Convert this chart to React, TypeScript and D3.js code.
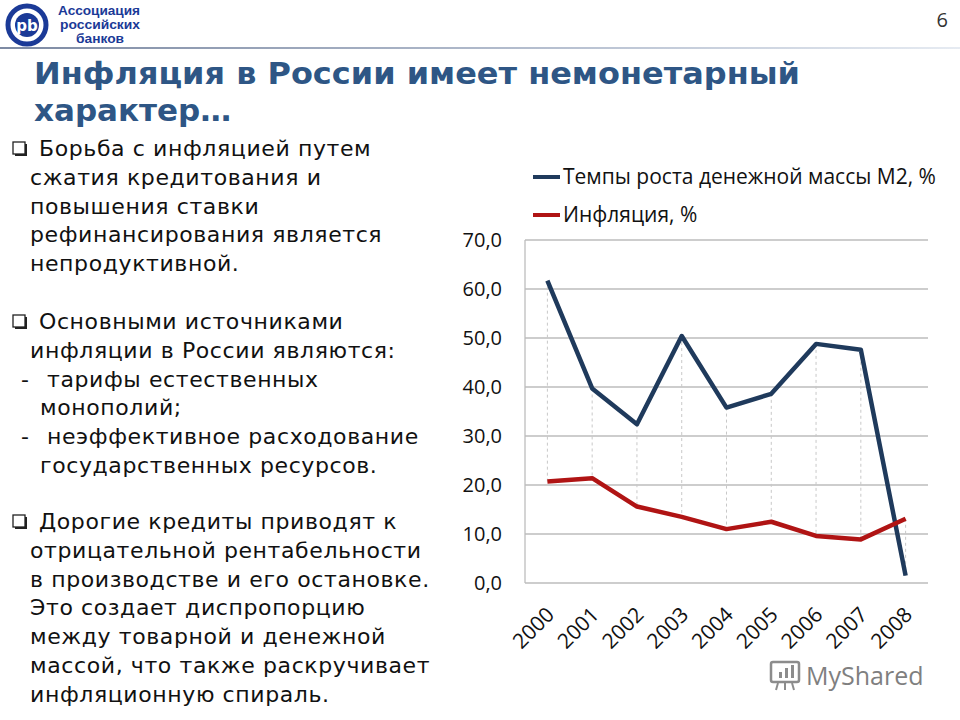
import React from 'react';
import * as d3 from 'd3';

// data
const years = ['2000', '2001', '2002', '2003', '2004', '2005', '2006', '2007', '2008'];
const m2Growth = [61.7, 39.7, 32.4, 50.4, 35.8, 38.6, 48.8, 47.6, 1.5];
const inflation = [20.7, 21.4, 15.6, 13.5, 11.0, 12.5, 9.6, 8.9, 13.1];
const yTicks = [0, 10, 20, 30, 40, 50, 60, 70];
const legendLabels = ['Темпы роста денежной массы M2, %', 'Инфляция, %'];

const bulletBlocks = [
  ['Борьба с инфляцией путем', 'сжатия кредитования и', 'повышения ставки', 'рефинансирования является', 'непродуктивной.'],
  ['Основными источниками', 'инфляции в России являются:'],
  ['Дорогие кредиты приводят к', 'отрицательной рентабельности', 'в производстве и его остановке.', 'Это создает диспропорцию', 'между товарной и денежной', 'массой, что также раскручивает', 'инфляционную спираль.'],
];
const dashItems = [
  ['тарифы естественных', 'монополий;'],
  ['неэффективное расходование', 'государственных ресурсов.'],
];

const M2_COLOR = '#1f3a5c';
const INF_COLOR = '#b01414';
const TITLE_COLOR = '#2e5685';

function Chart() {
  const left = 525, right = 928, top = 240, bottom = 583;
  const x = d3.scaleBand().domain(years).range([left, right]);
  const y = d3.scaleLinear().domain([0, 70]).range([bottom, top]);
  const cx = (d: string) => (x(d) as number) + x.bandwidth() / 2;

  const line = d3.line<number>()
    .x((d, i) => cx(years[i]))
    .y(d => y(d));

  const fmt = (v: number) => v.toFixed(1).replace('.', ',');
  const axisFont = '"Open Sans", "Noto Sans", sans-serif';

  return (
    <g fontFamily={axisFont}>
      {/* legend */}
      {legendLabels.map((lab, i) => (
        <g key={lab} transform={`translate(533,${177 + i * 38})`}>
          <line x1={0} x2={27} y1={0} y2={0} stroke={i === 0 ? M2_COLOR : INF_COLOR} strokeWidth={4} />
          <text x={30} y={7} fontSize={21} fill="#111">{lab}</text>
        </g>
      ))}
      {/* grid */}
      {yTicks.map(t => (
        <g key={t}>
          <line x1={left} x2={right} y1={y(t)} y2={y(t)} stroke="#bdbdbd" strokeWidth={1.3} />
          <text x={502} y={y(t) + 7} textAnchor="end" fontSize={20} fill="#111">{fmt(t)}</text>
        </g>
      ))}
      <line x1={left} x2={left} y1={top} y2={bottom} stroke="#bdbdbd" strokeWidth={1.3} />
      {/* high-low drop lines */}
      {years.map((yr, i) => (
        <line key={yr} x1={cx(yr)} x2={cx(yr)}
          y1={y(Math.max(m2Growth[i], inflation[i]))} y2={y(Math.min(m2Growth[i], inflation[i]))}
          stroke="#c8c8c8" strokeWidth={1} strokeDasharray="3,3" />
      ))}
      <path d={line(m2Growth) as string} fill="none" stroke={M2_COLOR} strokeWidth={4.5} strokeLinejoin="round" />
      <path d={line(inflation) as string} fill="none" stroke={INF_COLOR} strokeWidth={4.5} strokeLinejoin="round" />
      {/* x labels */}
      {years.map(yr => (
        <text key={yr} transform={`translate(${cx(yr) + 8},${bottom + 33}) rotate(-45)`}
          textAnchor="end" fontSize={21} fill="#111">{yr}</text>
      ))}
    </g>
  );
}

function BulletBox({ x, y }: { x: number; y: number }) {
  return (
    <g>
      <rect x={x + 2} y={y + 2} width={12} height={12} fill="#222" />
      <rect x={x} y={y} width={12} height={12} fill="#fff" stroke="#222" strokeWidth={1.3} />
    </g>
  );
}

function LeftText() {
  const font = '"DejaVu Sans", Verdana, sans-serif';
  const lh = 28.8;
  const rows: React.ReactNode[] = [];
  const tx = (s: string, xx: number, yy: number, k: string) => (
    <text key={k} x={xx} y={yy} fontSize={22} letterSpacing={0.6} fill="#111">{s}</text>
  );
  // block 1
  let yy = 156;
  bulletBlocks[0].forEach((s, i) => {
    if (i === 0) rows.push(<BulletBox key="b0" x={13} y={yy - 14} />);
    rows.push(tx(s, i === 0 ? 39 : 30, yy, 'a' + i));
    yy += lh;
  });
  yy = 329;
  bulletBlocks[1].forEach((s, i) => {
    if (i === 0) rows.push(<BulletBox key="b1" x={13} y={yy - 14} />);
    rows.push(tx(s, i === 0 ? 39 : 30, yy, 'b' + i));
    yy += lh;
  });
  dashItems.forEach((item, j) => {
    rows.push(tx('-', 21, yy, 'd' + j));
    rows.push(tx(item[0], 47, yy, 'e' + j));
    yy += lh;
    rows.push(tx(item[1], 40, yy, 'f' + j));
    yy += lh;
  });
  yy = 529;
  bulletBlocks[2].forEach((s, i) => {
    if (i === 0) rows.push(<BulletBox key="b2" x={13} y={yy - 14} />);
    rows.push(tx(s, i === 0 ? 39 : 30, yy, 'c' + i));
    yy += lh;
  });
  return <g fontFamily={font}>{rows}</g>;
}

function Header() {
  return (
    <g>
      <defs>
        <linearGradient id="hdr" x1="0" x2="1" y1="0" y2="0">
          <stop offset="0" stopColor="#7d8aa3" />
          <stop offset="0.6" stopColor="#b9c2d2" />
          <stop offset="1" stopColor="#e6ebf2" />
        </linearGradient>
      </defs>
      {/* logo */}
      <circle cx={27} cy={25} r={19} fill="none" stroke="#1b3a97" strokeWidth={5} />
      <circle cx={27} cy={25} r={12} fill="#1b3a97" />
      <text x={27} y={31} textAnchor="middle" fontFamily="'DejaVu Sans', sans-serif" fontWeight="bold" fontSize={15} fill="#fff">pb</text>
      <g fontFamily="'Liberation Sans', Arial, sans-serif" fontWeight="bold" fill="#1b3a97" fontSize={12}>
        <text x={58} y={15} textLength={82} lengthAdjust="spacingAndGlyphs">Ассоциация</text>
        <text x={60} y={29} textLength={80} lengthAdjust="spacingAndGlyphs">российских</text>
        <text x={76} y={43} textLength={48} lengthAdjust="spacingAndGlyphs">банков</text>
      </g>
      <text x={948} y={27} textAnchor="end" fontFamily="'Open Sans', sans-serif" fontSize={20} fill="#333">6</text>
      <rect x={0} y={47} width={960} height={2} fill="url(#hdr)" />
      <g fontFamily="'DejaVu Sans', Verdana, sans-serif" fontWeight="bold" fill={TITLE_COLOR} fontSize={31}>
        <text x={34} y={84} textLength={766} lengthAdjust="spacingAndGlyphs">Инфляция в России имеет немонетарный</text>
        <text x={34} y={121}>характер…</text>
      </g>
    </g>
  );
}

function Watermark() {
  return (
    <g opacity={0.75}>
      <rect x={771} y={662} width={28} height={20} fill="none" stroke="#666" strokeWidth={2.5} rx={2} />
      <rect x={779} y={672} width={3} height={6} fill="#666" />
      <rect x={785} y={668} width={3} height={10} fill="#666" />
      <rect x={791} y={665} width={3} height={13} fill="#666" />
      <line x1={778} x2={776} y1={683} y2={690} stroke="#666" strokeWidth={2} />
      <line x1={785} x2={785} y1={683} y2={690} stroke="#666" strokeWidth={2} />
      <line x1={792} x2={794} y1={683} y2={690} stroke="#666" strokeWidth={2} />
      <text x={806} y={685} fontFamily="'Open Sans', sans-serif" fontSize={25} fill="#555">MyShared</text>
    </g>
  );
}

export default function App() {
  return (
    <svg width={960} height={720} style={{ position: 'absolute', left: 0, top: 0, background: '#fff' }}>
      <rect width={960} height={720} fill="#fff" />
      <Header />
      <LeftText />
      <Chart />
      <Watermark />
    </svg>
  );
}
